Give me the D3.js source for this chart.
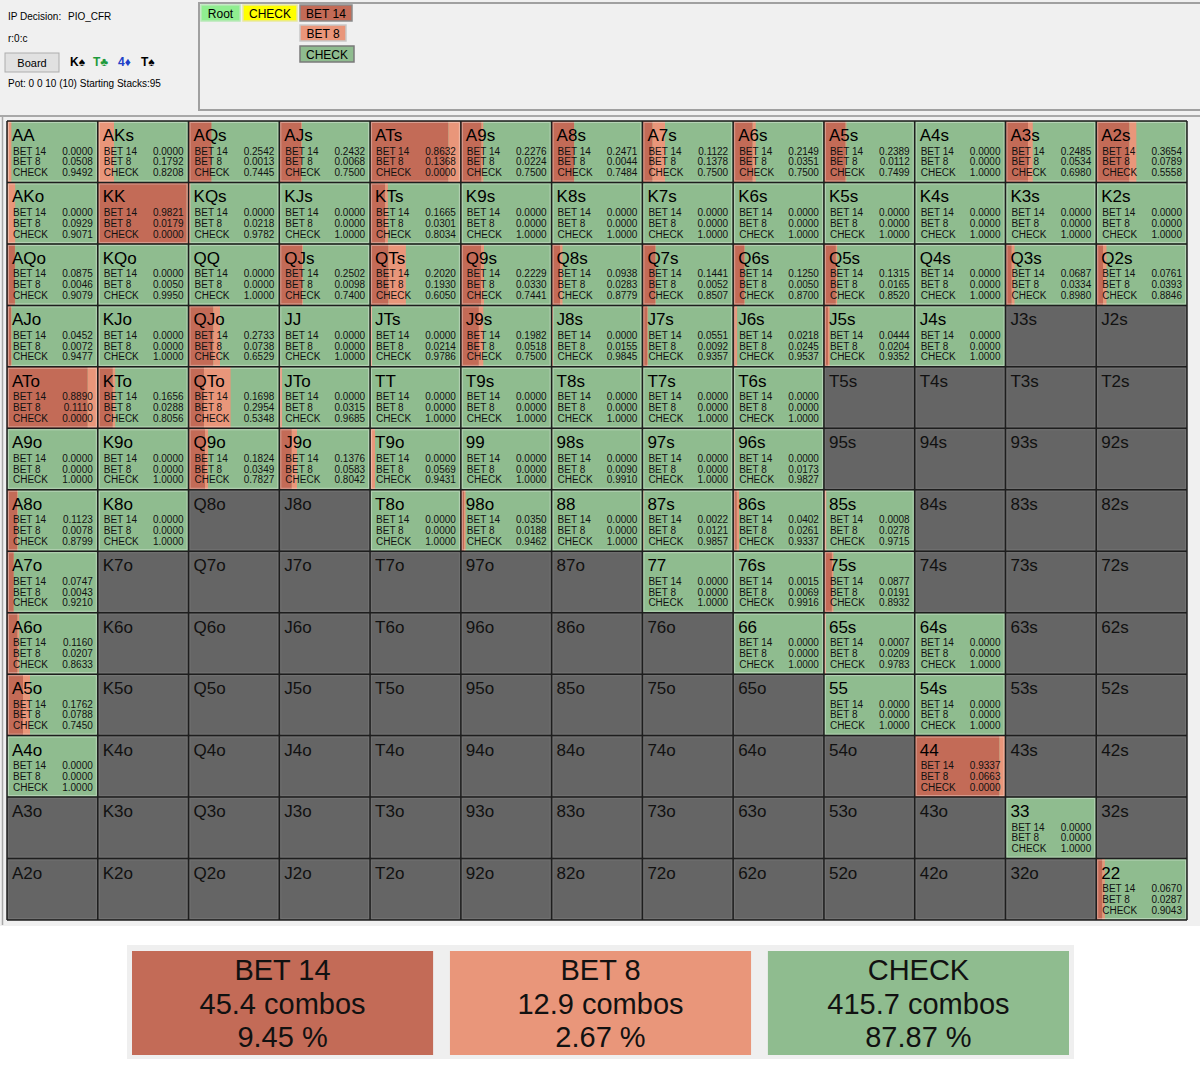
<!DOCTYPE html>
<html><head><meta charset="utf-8">
<script src="https://cdn.jsdelivr.net/npm/d3@7"></script>
<style>
html,body{margin:0;padding:0;background:#fff;}
svg{display:block;font-family:"Liberation Sans",Arial,sans-serif;}
</style></head>
<body>
<svg id="chart" width="1200" height="1086"></svg>
<script>
// ---------- DATA ----------
const ranks = ["A","K","Q","J","T","9","8","7","6","5","4","3","2"];
const actions = ["BET 14","BET 8","CHECK"];
const actionColors = ["#c36b57","#e9967a","#8fbc8f"];
const legendCombos = ["45.4 combos","12.9 combos","415.7 combos"];
const legendPct = ["9.45 %","2.67 %","87.87 %"];
const N = null;
// rows: first rank index, cols: second rank index (upper-right suited, lower-left offsuit)
const bet14 = [
 [0,0,.2542,.2432,.8632,.2276,.2471,.1122,.2149,.2389,0,.2485,.3654],
 [0,.9821,0,0,.1665,0,0,0,0,0,0,0,0],
 [.0875,0,0,.2502,.2020,.2229,.0938,.1441,.1250,.1315,0,.0687,.0761],
 [.0452,0,.2733,0,0,.1982,0,.0551,.0218,.0444,0,N,N],
 [.8890,.1656,.1698,0,0,0,0,0,0,N,N,N,N],
 [0,0,.1824,.1376,0,0,0,0,0,N,N,N,N],
 [.1123,0,N,N,0,.0350,0,.0022,.0402,.0008,N,N,N],
 [.0747,N,N,N,N,N,N,0,.0015,.0877,N,N,N],
 [.1160,N,N,N,N,N,N,N,0,.0007,0,N,N],
 [.1762,N,N,N,N,N,N,N,N,0,0,N,N],
 [0,N,N,N,N,N,N,N,N,N,.9337,N,N],
 [N,N,N,N,N,N,N,N,N,N,N,0,N],
 [N,N,N,N,N,N,N,N,N,N,N,N,.0670]
];
const bet8 = [
 [.0508,.1792,.0013,.0068,.1368,.0224,.0044,.1378,.0351,.0112,0,.0534,.0789],
 [.0929,.0179,.0218,0,.0301,0,0,0,0,0,0,0,0],
 [.0046,.0050,0,.0098,.1930,.0330,.0283,.0052,.0050,.0165,0,.0334,.0393],
 [.0072,0,.0738,0,.0214,.0518,.0155,.0092,.0245,.0204,0,N,N],
 [.1110,.0288,.2954,.0315,0,0,0,0,0,N,N,N,N],
 [0,0,.0349,.0583,.0569,0,.0090,0,.0173,N,N,N,N],
 [.0078,0,N,N,0,.0188,0,.0121,.0261,.0278,N,N,N],
 [.0043,N,N,N,N,N,N,0,.0069,.0191,N,N,N],
 [.0207,N,N,N,N,N,N,N,0,.0209,0,N,N],
 [.0788,N,N,N,N,N,N,N,N,0,0,N,N],
 [0,N,N,N,N,N,N,N,N,N,.0663,N,N],
 [N,N,N,N,N,N,N,N,N,N,N,0,N],
 [N,N,N,N,N,N,N,N,N,N,N,N,.0287]
];
const check = [
 [.9492,.8208,.7445,.7500,0,.7500,.7484,.7500,.7500,.7499,1,.6980,.5558],
 [.9071,0,.9782,1,.8034,1,1,1,1,1,1,1,1],
 [.9079,.9950,1,.7400,.6050,.7441,.8779,.8507,.8700,.8520,1,.8980,.8846],
 [.9477,1,.6529,1,.9786,.7500,.9845,.9357,.9537,.9352,1,N,N],
 [0,.8056,.5348,.9685,1,1,1,1,1,N,N,N,N],
 [1,1,.7827,.8042,.9431,1,.9910,1,.9827,N,N,N,N],
 [.8799,1,N,N,1,.9462,1,.9857,.9337,.9715,N,N,N],
 [.9210,N,N,N,N,N,N,1,.9916,.8932,N,N,N],
 [.8633,N,N,N,N,N,N,N,1,.9783,1,N,N],
 [.7450,N,N,N,N,N,N,N,N,1,1,N,N],
 [1,N,N,N,N,N,N,N,N,N,0,N,N],
 [N,N,N,N,N,N,N,N,N,N,N,1,N],
 [N,N,N,N,N,N,N,N,N,N,N,N,.9043]
];
const boardCards = [{t:"K\u2660",c:"#000"},{t:"T\u2663",c:"#1f9a3c"},{t:"4\u2666",c:"#2040c8"},{t:"T\u2660",c:"#000"}];

// ---------- DRAW ----------
const svg = d3.select("#chart");
const fmt = d3.format(".4f");

// page backgrounds
svg.append("rect").attr("x",0).attr("y",0).attr("width",1200).attr("height",926).attr("fill","#f0f0f0");
svg.append("rect").attr("x",0).attr("y",926).attr("width",1200).attr("height",160).attr("fill","#ffffff");

// header left
const hdr = svg.append("g").style("font-size","10px").attr("fill","#000");
hdr.append("text").attr("x",8).attr("y",20).text("IP Decision:");
hdr.append("text").attr("x",68).attr("y",20).text("PIO_CFR");
hdr.append("text").attr("x",8).attr("y",42).text("r:0:c");
hdr.append("rect").attr("x",5).attr("y",53).attr("width",54).attr("height",19).attr("fill","#e1e1e1").attr("stroke","#adadad");
hdr.append("text").attr("x",32).attr("y",67).attr("text-anchor","middle").style("font-size","11px").text("Board");
const cardX = d3.scaleOrdinal().domain(d3.range(4)).range([70,93,118,141]);
hdr.selectAll("text.card").data(boardCards).join("text").attr("class","card")
  .attr("x",(d,i)=>cardX(i)).attr("y",66).attr("fill",d=>d.c).style("font-weight","bold").style("font-size","12px").text(d=>d.t);
hdr.append("text").attr("x",8).attr("y",87).text("Pot: 0 0 10 (10) Starting Stacks:95");

// header right panel
svg.append("rect").attr("x",199).attr("y",3).attr("width",1003).attr("height",107).attr("fill","#f0f0f0").attr("stroke","#a0a0a0").attr("stroke-width",2);
svg.append("line").attr("x1",0).attr("x2",1200).attr("y1",116).attr("y2",116).attr("stroke","#a8a8a8").attr("stroke-width",2);
svg.append("line").attr("x1",2.5).attr("x2",2.5).attr("y1",117).attr("y2",925).attr("stroke","#a8a8a8").attr("stroke-width",1.5);
const btns = [
  {t:"Root",x:201,y:5,w:39,h:16,f:"#90ee90",s:"#b8e8b8"},
  {t:"CHECK",x:243,y:5,w:54,h:16,f:"#ffff00",s:"#e8e8a0"},
  {t:"BET 14",x:300,y:5,w:52,h:16,f:actionColors[0],s:"#8a8a8a"},
  {t:"BET 8",x:300,y:25,w:46,h:16,f:actionColors[1],s:"#c8c8c8"},
  {t:"CHECK",x:300,y:46,w:54,h:16,f:actionColors[2],s:"#7a7a7a"}
];
const bg = svg.append("g").selectAll("g").data(btns).join("g");
bg.append("rect").attr("x",d=>d.x).attr("y",d=>d.y).attr("width",d=>d.w).attr("height",d=>d.h).attr("fill",d=>d.f).attr("stroke",d=>d.s).attr("stroke-width",1.5);
bg.append("text").attr("x",d=>d.x+d.w/2).attr("y",d=>d.y+12.5).attr("text-anchor","middle").style("font-size","12px").text(d=>d.t);

// grid
const xs = d3.scaleBand().domain(d3.range(13)).range([7,1187]);
const ys = d3.scaleBand().domain(d3.range(13)).range([121,920]);
const cells = [];
for (let r=0;r<13;r++) for (let c=0;c<13;c++){
  const name = r===c ? ranks[r]+ranks[c] : (r<c ? ranks[r]+ranks[c]+"s" : ranks[c]+ranks[r]+"o");
  cells.push({r,c,name,v: bet14[r][c]===null?null:[bet14[r][c],bet8[r][c],check[r][c]]});
}
const g = svg.append("g");
const cg = g.selectAll("g.cell").data(cells).join("g").attr("class","cell")
  .attr("transform",d=>`translate(${xs(d.c)},${ys(d.r)})`);
const W = xs.bandwidth(), H = ys.bandwidth();
cg.append("rect").attr("width",W).attr("height",H).attr("fill",d=>d.v?actionColors[2]:"#656565");
cg.filter(d=>d.v).each(function(d){
  const xf = d3.scaleLinear().domain([0,1]).range([0,W]);
  let acc=0;
  const segs = d.v.map((v,i)=>{const s={i,a:acc,b:acc+v}; acc+=v; return s;});
  d3.select(this).selectAll("rect.seg").data(segs.filter(s=>s.b>s.a)).join("rect").attr("class","seg")
    .attr("x",s=>xf(s.a)).attr("width",s=>Math.max(0,xf(Math.min(1,s.b))-xf(s.a))).attr("y",0).attr("height",H)
    .attr("fill",s=>actionColors[s.i]);
});
cg.append("rect").attr("x",1.5).attr("y",1.5).attr("width",W-3).attr("height",H-3).attr("fill","none")
  .attr("stroke",d=>d.v?"rgba(255,255,255,0.35)":"rgba(255,255,255,0.08)").attr("stroke-width",1);
cg.append("text").attr("x",5).attr("y",20).style("font-size","17px").attr("fill",d=>d.v?"#000":"#111").text(d=>d.name);
const lab = cg.filter(d=>d.v).selectAll("g.row").data(d=>d.v.map((v,i)=>({v,i}))).join("g").attr("class","row");
lab.append("text").attr("x",6).attr("y",d=>33.5+d.i*10.8).style("font-size","10px").attr("fill","#111").text(d=>actions[d.i]);
lab.append("text").attr("x",W-5).attr("y",d=>33.5+d.i*10.8).attr("text-anchor","end").style("font-size","10px").attr("fill","#111").text(d=>fmt(d.v));
// grid lines
g.selectAll("line.v").data(d3.range(14)).join("line").attr("class","v")
  .attr("x1",i=>i<13?xs(i):1187).attr("x2",i=>i<13?xs(i):1187).attr("y1",121).attr("y2",920)
  .attr("stroke","#1e1e1e").attr("stroke-width",1.5);
g.selectAll("line.h").data(d3.range(14)).join("line").attr("class","h")
  .attr("y1",i=>i<13?ys(i):920).attr("y2",i=>i<13?ys(i):920).attr("x1",7).attr("x2",1187)
  .attr("stroke","#1e1e1e").attr("stroke-width",1.5);

// legend
svg.append("rect").attr("x",127).attr("y",945).attr("width",947).attr("height",114).attr("fill","#efefef");
const lx = d3.scaleBand().domain(d3.range(3)).range([132,1069]).paddingInner(0.053);
const lg = svg.append("g").selectAll("g").data(actions).join("g").attr("transform",(d,i)=>`translate(${lx(i)},951)`);
lg.append("rect").attr("width",lx.bandwidth()).attr("height",104).attr("fill",(d,i)=>actionColors[i]);
lg.each(function(d,i){
  const t = d3.select(this);
  [d,legendCombos[i],legendPct[i]].forEach((s,k)=>{
    t.append("text").attr("x",lx.bandwidth()/2).attr("y",29+k*33.5).attr("text-anchor","middle")
      .style("font-size","29px").attr("fill","#111").text(s);
  });
});
</script>
</body></html>
